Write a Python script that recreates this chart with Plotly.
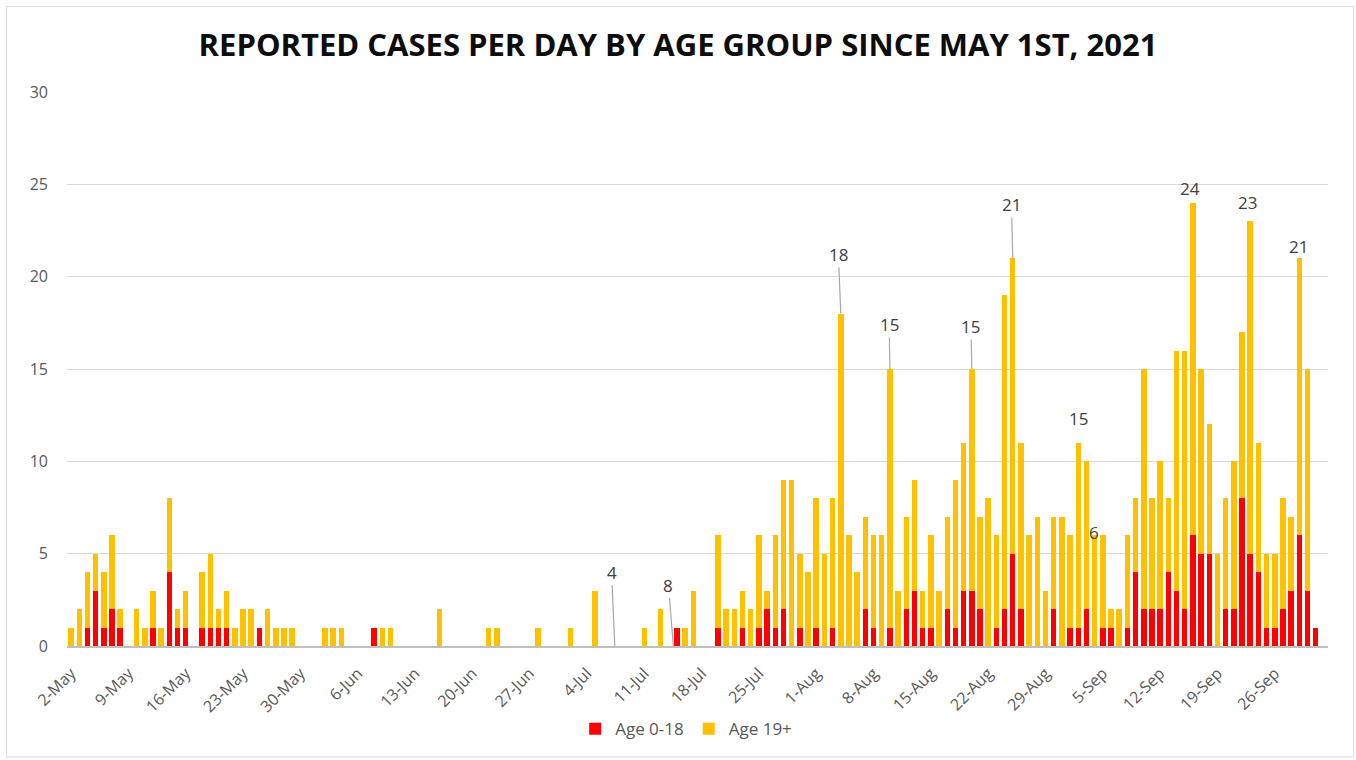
import datetime as dt
import plotly.graph_objects as go

# ---------------- data ----------------
start_date = dt.date(2021, 5, 2)
n_days = 154
dates = [start_date + dt.timedelta(days=i) for i in range(n_days)]

age_0_18 = [
    0, 0, 1, 3, 1, 2, 1, 0, 0, 0,
    1, 0, 4, 1, 1, 0, 1, 1, 1, 1,
    0, 0, 0, 1, 0, 0, 0, 0, 0, 0,
    0, 0, 0, 0, 0, 0, 0, 1, 0, 0,
    0, 0, 0, 0, 0, 0, 0, 0, 0, 0,
    0, 0, 0, 0, 0, 0, 0, 0, 0, 0,
    0, 0, 0, 0, 0, 0, 0, 0, 0, 0,
    0, 0, 0, 0, 1, 0, 0, 0, 0, 1,
    0, 0, 1, 0, 1, 2, 1, 2, 0, 1,
    0, 1, 0, 1, 0, 0, 0, 2, 1, 0,
    1, 0, 2, 3, 1, 1, 0, 2, 1, 3,
    3, 2, 0, 1, 2, 5, 2, 0, 0, 0,
    2, 0, 1, 1, 2, 0, 1, 1, 0, 1,
    4, 2, 2, 2, 4, 3, 2, 6, 5, 5,
    0, 2, 2, 8, 5, 4, 1, 1, 2, 3,
    6, 3, 1, 0,
]

age_19_plus = [
    1, 2, 3, 2, 3, 4, 1, 0, 2, 1,
    2, 1, 4, 1, 2, 0, 3, 4, 1, 2,
    1, 2, 2, 0, 2, 1, 1, 1, 0, 0,
    0, 1, 1, 1, 0, 0, 0, 0, 1, 1,
    0, 0, 0, 0, 0, 2, 0, 0, 0, 0,
    0, 1, 1, 0, 0, 0, 0, 1, 0, 0,
    0, 1, 0, 0, 3, 0, 0, 0, 0, 0,
    1, 0, 2, 0, 0, 1, 3, 0, 0, 5,
    2, 2, 2, 2, 5, 1, 5, 7, 9, 4,
    4, 7, 5, 7, 18, 6, 4, 5, 5, 6,
    14, 3, 5, 6, 2, 5, 3, 5, 8, 8,
    12, 5, 8, 5, 17, 16, 9, 6, 7, 3,
    5, 7, 5, 10, 8, 6, 5, 1, 2, 5,
    4, 13, 6, 8, 4, 13, 14, 18, 10, 7,
    5, 6, 8, 9, 18, 7, 4, 4, 6, 4,
    15, 12, 0, 0,
]

series_names = ["Age 0-18", "Age 19+"]
series_colors = ["#FF0000", "#FFC000"]

tick_dates = [start_date + dt.timedelta(days=7 * k) for k in range(22)]

# data labels: text, pointed day offset, pointed value, text day offset, text value, leader
label_texts = ["4", "8", "18", "15", "15", "21", "15", "6", "24", "23", "21"]
label_point_day = [66.4, 73.55, 94, 100, 110, 115, 123, 125, 137, 144, 150]
label_point_val = [0, 0, 18, 15, 15, 21, 11, 6, 24, 23, 21]
label_text_day = [66.0, 72.95, 93.7, 99.9, 109.9, 114.85, 123.07, 124.9, 136.6, 143.7, 149.95]
label_text_val = [4.0, 3.3, 21.2, 17.4, 17.3, 23.9, 12.3, 6.15, 24.8, 24.0, 21.65]
label_leader = [True, True, True, True, True, True, False, False, False, False, False]


def day_to_dt(d):
    base = dt.datetime(start_date.year, start_date.month, start_date.day)
    return base + dt.timedelta(days=d)


fig = go.Figure()
for name, vals, col in zip(series_names, [age_0_18, age_19_plus], series_colors):
    fig.add_trace(go.Bar(
        x=dates, y=vals, name=name,
        marker=dict(color=col, line=dict(width=0)),
    ))

annotations = []
for t, pd_, pv, td, tv, lead in zip(label_texts, label_point_day, label_point_val,
                                     label_text_day, label_text_val, label_leader):
    if lead:
        annotations.append(dict(
            x=day_to_dt(pd_), y=pv, xref="x", yref="y",
            ax=day_to_dt(td), ay=tv, axref="x", ayref="y",
            text=t, showarrow=True, arrowhead=0, arrowwidth=1.2,
            arrowcolor="#a6a6a6", standoff=0, startstandoff=0,
            font=dict(family="Open Sans", size=17, color="#404040"),
        ))
    else:
        annotations.append(dict(
            x=day_to_dt(td), y=tv, xref="x", yref="y",
            text=t, showarrow=False,
            font=dict(family="Open Sans", size=17, color="#404040"),
        ))

fig.update_layout(
    width=1356, height=760,
    margin=dict(l=66.6, r=27.7, t=91.7, b=114),
    paper_bgcolor="white", plot_bgcolor="white",
    barmode="stack", bargap=0.33,
    title=dict(
        text="<b>REPORTED CASES PER DAY BY AGE GROUP SINCE MAY 1ST, 2021</b>",
        x=0.5, xref="container", xanchor="center",
        y=1 - 45 / 760, yref="container", yanchor="middle",
        font=dict(family="Open Sans", size=31, color="#0d0d0d"),
    ),
    font=dict(family="Open Sans", size=16, color="#595959"),
    showlegend=True,
    legend=dict(
        orientation="h", x=0.491, xanchor="center", y=-0.150, yanchor="middle",
        traceorder="normal", font=dict(family="Open Sans", size=17, color="#595959"),
        itemwidth=30, bgcolor="rgba(0,0,0,0)",
    ),
    xaxis=dict(
        type="date",
        range=[day_to_dt(-0.5), day_to_dt(153.5)],
        tickvals=tick_dates, tickformat="%-d-%b", tickangle=-45,
        showgrid=False, showline=True, linecolor="#bfbfbf", linewidth=1.5,
        ticks="", ticklabelstandoff=10,
        tickfont=dict(family="Open Sans", size=16, color="#595959"),
        zeroline=False,
    ),
    yaxis=dict(
        range=[0, 30], dtick=5, tick0=0,
        showgrid=True, gridcolor="#d9d9d9", gridwidth=1,
        zeroline=False, showline=False, ticks="",
        ticklabelstandoff=18,
        tickfont=dict(family="Open Sans", size=16, color="#595959"),
    ),
    annotations=annotations,
    shapes=[dict(
        type="rect", xref="paper", yref="paper",
        x0=(6 - 66.6) / 1261.7, x1=(1354 - 66.6) / 1261.7,
        y0=(646 - 757) / 554.3, y1=(646 - 6) / 554.3,
        line=dict(color="#d9d9d9", width=1), fillcolor="rgba(0,0,0,0)",
        layer="below",
    )],
)

fig.write_html(
    "out.html",
    config={"displayModeBar": False},
    post_script="document.body.style.margin='0';document.body.style.overflow='hidden';",
)
